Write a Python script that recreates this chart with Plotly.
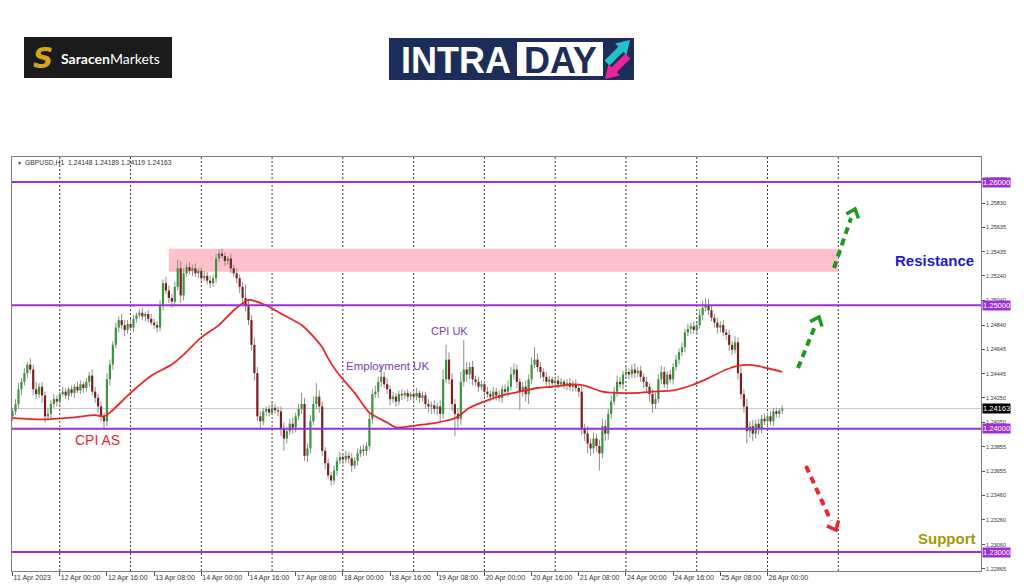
import math
import pandas as pd
import plotly.graph_objects as go

# ---------------- data ----------------
SYMBOL = "GBPUSD,H1"
START = "2023-04-11 08:00"          # first H1 bar
GRID_END = "2023-04-27 00:00"       # last daily separator drawn
PIP = 0.0001
FIRST_OPEN = 1.2410

CLOSE = [
    1.2414, 1.2420, 1.2432, 1.2438, 1.2445, 1.2452, 1.2448, 1.2432, 1.2428, 1.2434,
    1.2427, 1.2410, 1.2412, 1.2420, 1.2424, 1.2422, 1.2428, 1.2430, 1.2427, 1.2432,
    1.2429, 1.2434, 1.2431, 1.2436, 1.2433, 1.2438, 1.2443, 1.2430, 1.2425, 1.2418,
    1.2410, 1.2406, 1.2440, 1.2452, 1.2468, 1.2482, 1.2488, 1.2484, 1.2480, 1.2485,
    1.2482, 1.2489, 1.2492, 1.2494, 1.2491, 1.2493, 1.2489, 1.2486, 1.2484, 1.2482,
    1.2500, 1.2518, 1.2512, 1.2506, 1.2503, 1.2515, 1.2530, 1.2508, 1.2526, 1.2531,
    1.2528, 1.2530, 1.2526, 1.2528, 1.2522, 1.2524, 1.2520, 1.2518, 1.2522, 1.2538,
    1.2542, 1.2540, 1.2536, 1.2538, 1.2530, 1.2526, 1.2522, 1.2515, 1.2506, 1.2500,
    1.2488, 1.2468, 1.2445, 1.2410, 1.2406, 1.2414, 1.2416, 1.2413, 1.2417, 1.2415,
    1.2414, 1.2400, 1.2392, 1.2398, 1.2404, 1.2401, 1.2410, 1.2416, 1.2420, 1.2378,
    1.2384, 1.2406, 1.2420, 1.2426, 1.2418, 1.2382, 1.2372, 1.2362, 1.2358, 1.2366,
    1.2374, 1.2377, 1.2375, 1.2378, 1.2376, 1.2370, 1.2374, 1.2380, 1.2383, 1.2382,
    1.2386, 1.2408, 1.2428, 1.2430, 1.2438, 1.2442, 1.2436, 1.2432, 1.2424, 1.2426,
    1.2422, 1.2428, 1.2427, 1.2429, 1.2426, 1.2428, 1.2426, 1.2429, 1.2425, 1.2427,
    1.2420, 1.2418, 1.2419, 1.2416, 1.2418, 1.2412, 1.2440, 1.2456, 1.2440, 1.2420,
    1.2412, 1.2408, 1.2438, 1.2448, 1.2444, 1.2450, 1.2440, 1.2438, 1.2434, 1.2436,
    1.2430, 1.2428, 1.2426, 1.2430, 1.2427, 1.2425, 1.2432, 1.2430, 1.2434, 1.2444,
    1.2448, 1.2438, 1.2430, 1.2434, 1.2428, 1.2440, 1.2452, 1.2456, 1.2450, 1.2446,
    1.2442, 1.2438, 1.2440, 1.2437, 1.2439, 1.2436, 1.2438, 1.2435, 1.2437, 1.2434,
    1.2436, 1.2433, 1.2430, 1.2400, 1.2396, 1.2388, 1.2384, 1.2392, 1.2386, 1.2380,
    1.2402, 1.2396, 1.2412, 1.2422, 1.2430, 1.2438, 1.2436, 1.2444, 1.2446, 1.2444,
    1.2448, 1.2445, 1.2447, 1.2442, 1.2438, 1.2434, 1.2428, 1.2420, 1.2424, 1.2440,
    1.2446, 1.2436, 1.2444, 1.2440, 1.2450, 1.2456, 1.2462, 1.2466, 1.2478, 1.2481,
    1.2483, 1.2480, 1.2484, 1.2492, 1.2498, 1.2500, 1.2496, 1.2490, 1.2486, 1.2482,
    1.2484, 1.2478, 1.2476, 1.2468, 1.2464, 1.2470, 1.2445, 1.2428, 1.2418, 1.2398,
    1.2402, 1.2396, 1.2404, 1.2400, 1.2408, 1.2406, 1.2410, 1.2406, 1.2414, 1.2412,
    1.24148, 1.24163,
]

UPPER_WICK_PIPS = [
    3, 4, 5, 3, 4, 2, 5, 4, 6, 3,
    4, 3, 5, 3, 4, 3, 2, 4, 3, 2,
    3, 2, 4, 3, 2, 3, 3, 5, 4, 3,
    4, 3, 5, 4, 3, 4, 3, 5, 4, 3,
    4, 3, 2, 3, 4, 2, 3, 4, 3, 3,
    4, 3, 5, 4, 3, 4, 7, 6, 4, 3,
    4, 3, 4, 2, 3, 4, 3, 4, 3, 4,
    3, 4, 3, 2, 4, 3, 4, 3, 4, 11,
    5, 4, 6, 5, 4, 3, 2, 3, 4, 3,
    3, 4, 5, 3, 4, 5, 3, 4, 9, 5,
    4, 5, 6, 11, 5, 4, 3, 4, 3, 4,
    3, 4, 3, 4, 3, 4, 3, 4, 3, 4,
    3, 5, 4, 5, 4, 10, 4, 5, 3, 4,
    3, 3, 4, 2, 3, 2, 3, 4, 2, 3,
    3, 4, 3, 4, 3, 5, 8, 12, 6, 5,
    4, 5, 8, 24, 6, 4, 5, 3, 4, 3,
    3, 4, 3, 4, 3, 4, 3, 4, 5, 6,
    5, 4, 3, 4, 5, 4, 6, 10, 5, 4,
    3, 4, 3, 2, 3, 4, 3, 2, 3, 4,
    3, 4, 3, 5, 4, 6, 4, 5, 4, 5,
    6, 5, 4, 5, 4, 5, 4, 3, 4, 3,
    4, 5, 3, 4, 3, 4, 3, 4, 5, 4,
    5, 4, 3, 4, 3, 4, 3, 4, 3, 4,
    3, 4, 3, 5, 6, 6, 5, 4, 3, 4,
    3, 4, 3, 4, 3, 5, 4, 5, 4, 6,
    4, 5, 3, 4, 3, 4, 3, 4, 3, 3,
    2, 2.6,
]

LOWER_WICK_PIPS = [
    4, 3, 4, 5, 3, 4, 3, 5, 4, 3,
    6, 5, 3, 4, 3, 4, 3, 2, 3, 4,
    3, 4, 2, 3, 4, 3, 4, 3, 4, 5,
    4, 6, 4, 5, 4, 3, 4, 3, 5, 3,
    3, 4, 3, 2, 3, 4, 3, 2, 3, 4,
    3, 4, 3, 4, 5, 4, 3, 6, 4, 3,
    3, 4, 3, 4, 3, 2, 3, 4, 3, 4,
    3, 2, 4, 3, 4, 3, 4, 5, 4, 5,
    4, 5, 6, 4, 6, 3, 4, 3, 2, 3,
    4, 6, 10, 4, 3, 5, 4, 3, 4, 4,
    5, 4, 3, 4, 5, 4, 5, 3, 4, 3,
    4, 3, 4, 3, 4, 5, 3, 4, 3, 4,
    4, 3, 4, 3, 5, 4, 3, 4, 5, 3,
    4, 3, 4, 3, 4, 3, 4, 3, 4, 3,
    4, 5, 6, 4, 5, 6, 4, 3, 4, 6,
    18, 7, 5, 4, 6, 4, 5, 3, 4, 3,
    4, 3, 4, 3, 4, 3, 4, 3, 4, 3,
    4, 5, 15, 4, 6, 8, 4, 3, 4, 5,
    4, 3, 4, 3, 4, 3, 2, 3, 4, 3,
    4, 3, 4, 5, 6, 8, 6, 4, 5, 14,
    4, 6, 5, 4, 3, 4, 3, 4, 3, 4,
    3, 4, 3, 4, 5, 4, 6, 7, 4, 3,
    4, 3, 4, 3, 4, 3, 4, 3, 4, 3,
    4, 3, 4, 3, 4, 3, 4, 3, 4, 5,
    4, 3, 4, 5, 4, 3, 5, 4, 5, 10,
    5, 6, 4, 5, 4, 3, 4, 3, 4, 3,
    3, 2.9,
]

# moving average (red line), read at these bar numbers
MA_BAR = [0, 10, 20, 28, 31, 33, 40, 47, 54, 58, 64, 70, 75, 80, 86, 92, 98,
          103, 105, 107, 110, 116, 121, 127, 130, 138, 144, 150, 155, 161, 166,
          172, 178, 183, 190, 194, 200, 205, 212, 217, 224, 230, 236, 242, 246,
          251, 256, 261]
MA_VALUE = [1.24085, 1.24075, 1.24090, 1.24110, 1.24100, 1.24130, 1.24290,
            1.24430, 1.24520, 1.24600, 1.24740, 1.24840, 1.24960, 1.25045,
            1.25000, 1.24920, 1.24840, 1.24720, 1.24660, 1.24570, 1.24460,
            1.24290, 1.24130, 1.24050, 1.24010, 1.24030, 1.24050, 1.24085,
            1.24170, 1.24230, 1.24270, 1.24300, 1.24330, 1.24340, 1.24360,
            1.24350, 1.24300, 1.24290, 1.24290, 1.24300, 1.24310, 1.24350,
            1.24410, 1.24480, 1.24510, 1.24515, 1.24490, 1.24460]

X_TICK_LABELS = ["11 Apr 2023", "12 Apr 00:00", "12 Apr 16:00", "13 Apr 08:00",
                 "14 Apr 00:00", "14 Apr 16:00", "17 Apr 08:00", "18 Apr 00:00",
                 "18 Apr 16:00", "19 Apr 08:00", "20 Apr 00:00", "20 Apr 16:00",
                 "21 Apr 08:00", "24 Apr 00:00", "24 Apr 16:00", "25 Apr 08:00",
                 "26 Apr 00:00"]
X_TICK_STEP = 16  # one label every 16 bars

Y_TICKS = [1.26025, 1.25830, 1.25635, 1.25435, 1.25240, 1.25040, 1.24840,
           1.24645, 1.24445, 1.24250, 1.24050, 1.23855, 1.23655, 1.23460,
           1.23260, 1.23060, 1.22865]

LEVELS = [1.26000, 1.25000, 1.24000, 1.23000]
ZONE_LOW, ZONE_HIGH = 1.25272, 1.25459
ZONE_FROM_BAR, ZONE_TO_BAR = 53, 280

EVENTS = [("CPI AS", "#e5282b"), ("Employment UK", "#7a3cae"), ("CPI UK", "#7a3cae")]

# ---------------- derived ----------------
n = len(CLOSE)
bars = list(range(n))
OPEN = [FIRST_OPEN] + CLOSE[:-1]
HIGH = [max(o, c) + u * PIP for o, c, u in zip(OPEN, CLOSE, UPPER_WICK_PIPS)]
LOW = [min(o, c) - d * PIP for o, c, d in zip(OPEN, CLOSE, LOWER_WICK_PIPS)]

times = pd.date_range(START, periods=24 * 30, freq="h")
times = times[times.dayofweek < 5]
grid_bars = [i for i, t in enumerate(times) if t.hour == 0 and t <= pd.Timestamp(GRID_END)]

# ---------------- page geometry ----------------
W, H = 1024, 587
L, R, T, B = 12, 981, 157, 571


def PX(x):
    return (x - L) / (R - L)


def PY(y):
    return (B - y) / (B - T)


GREEN = "#3a963a"
RED = "#7e1f1f"
WICK = "#8e8e8e"
PURPLE = "#9b30d9"

fig = go.Figure()

# wicks
wx, wy = [], []
for i in bars:
    wx += [i, i, None]
    wy += [LOW[i], HIGH[i], None]
fig.add_trace(go.Scatter(x=wx, y=wy, mode="lines", line=dict(color=WICK, width=1),
                         hoverinfo="skip"))

# bodies
MIN_BODY = 0.5 * PIP
for up, col in ((True, GREEN), (False, RED)):
    bx, by = [], []
    for i in bars:
        o, c = OPEN[i], CLOSE[i]
        if (c >= o) != up:
            continue
        lo, hi = min(o, c), max(o, c)
        if hi - lo < 2 * MIN_BODY:
            mid = (hi + lo) / 2
            lo, hi = mid - MIN_BODY, mid + MIN_BODY
        bx += [i, i, None]
        by += [lo, hi, None]
    fig.add_trace(go.Scatter(x=bx, y=by, mode="lines", line=dict(color=col, width=2.2),
                             hoverinfo="skip"))

# moving average
fig.add_trace(go.Scatter(x=MA_BAR, y=MA_VALUE, mode="lines",
                         line=dict(color="#e5282b", width=1.8, shape="spline", smoothing=0.6),
                         hoverinfo="skip"))

shapes = []
# resistance zone
shapes.append(dict(type="rect", xref="x", yref="y", x0=ZONE_FROM_BAR, x1=ZONE_TO_BAR,
                   y0=ZONE_LOW, y1=ZONE_HIGH, fillcolor="#ffc1cc", line=dict(width=0),
                   layer="below"))
# daily separators
for g in grid_bars:
    shapes.append(dict(type="line", xref="x", yref="paper", x0=g, x1=g, y0=0, y1=1,
                       line=dict(color="#3c3c3c", width=1, dash="2px,2px"), layer="below"))
# current price line
shapes.append(dict(type="line", xref="paper", yref="y", x0=0, x1=1, y0=CLOSE[-1], y1=CLOSE[-1],
                   line=dict(color="#c8c8c8", width=1), layer="below"))
# horizontal levels
for lv in LEVELS:
    shapes.append(dict(type="line", xref="paper", yref="y", x0=0, x1=1, y0=lv, y1=lv,
                       line=dict(color=PURPLE, width=2), layer="above"))


# dashed arrows (decoration, in page pixels)
def dashed_arrow(x0, y0, x1, y1, tx, ty, color):
    shapes.append(dict(type="line", xref="paper", yref="paper", x0=PX(x0), y0=PY(y0),
                       x1=PX(x1), y1=PY(y1), line=dict(color=color, width=4, dash="7px,5px")))
    dx, dy = tx - x0, ty - y0
    d = math.hypot(dx, dy)
    bx_, by_ = -dx / d, -dy / d
    pts = []
    for a in (math.radians(40), math.radians(-40)):
        rx = bx_ * math.cos(a) - by_ * math.sin(a)
        ry = bx_ * math.sin(a) + by_ * math.cos(a)
        pts.append((tx + 10 * rx, ty + 10 * ry))
    path = (f"M {PX(pts[0][0])},{PY(pts[0][1])} L {PX(tx)},{PY(ty)} "
            f"L {PX(pts[1][0])},{PY(pts[1][1])}")
    shapes.append(dict(type="path", xref="paper", yref="paper", path=path,
                       line=dict(color=color, width=3.5)))


dashed_arrow(834, 268, 851, 218, 855, 209, "#1f9a1f")
dashed_arrow(798, 368, 815, 326, 819, 317, "#1f9a1f")
dashed_arrow(806, 466, 831, 521, 836, 530, "#e5282b")


# logos
def prect(x0, y0, x1, y1, fill):
    shapes.append(dict(type="rect", xref="paper", yref="paper", x0=PX(x0), x1=PX(x1),
                       y0=PY(y1), y1=PY(y0), fillcolor=fill, line=dict(width=0)))


def ppoly(pts, fill):
    path = "M " + " L ".join(f"{PX(x)},{PY(y)}" for x, y in pts) + " Z"
    shapes.append(dict(type="path", xref="paper", yref="paper", path=path,
                       fillcolor=fill, line=dict(width=0)))


prect(24, 37, 172, 78, "#1b1b1b")
prect(389, 38, 634, 80, "#1c2d5a")
prect(517, 42, 603, 76, "#ffffff")
ppoly([(630, 40), (626.5, 54.9), (623.3, 51.7), (609.5, 65.5), (604.5, 60.5),
       (618.3, 46.7), (615.1, 43.5)], "#22c3cc")
ppoly([(605, 79), (619.9, 75.5), (616.7, 72.3), (630.5, 58.5), (625.5, 53.5),
       (611.7, 67.3), (608.5, 64.1)], "#e8259c")

ann = []


def ptext(x, y, text, size, color, family="Liberation Sans", xanchor="center", **kw):
    ann.append(dict(xref="paper", yref="paper", x=PX(x), y=PY(y), text=text, showarrow=False,
                    xanchor=xanchor, yanchor="middle", font=dict(size=size, color=color,
                                                                 family=family), **kw))


ptext(43, 58, "<b><i>S</i></b>", 28, "#d8a21e", family="DejaVu Sans")
ptext(59, 58, "<b>Saracen</b>Markets", 14, "#ffffff", family="Lato", xanchor="left")
ptext(456, 60, "<b>INTRA</b>", 36, "#ffffff", family="Liberation Sans")
ptext(560, 60, "<b>DAY</b>", 36, "#1c2d5a", family="Liberation Sans")

# header line
ptext(15, 163, "▼", 5, "#333333", xanchor="left")
hdr = f"{SYMBOL}  {OPEN[-1]:.5f} {HIGH[-1]:.5f} {LOW[-1]:.5f} {CLOSE[-1]:.5f}"
ptext(23, 163, hdr, 6.8, "#333333", xanchor="left")

# event labels
ptext(97, 440, EVENTS[0][0], 14, EVENTS[0][1])
ptext(387, 366, EVENTS[1][0], 11.5, EVENTS[1][1])
ptext(449, 331, EVENTS[2][0], 11, EVENTS[2][1])
ptext(934, 260, "<b>Resistance</b>", 15, "#1c1cc8")
ptext(947, 538, "<b>Support</b>", 15, "#a09a00")

# price boxes on the right axis
for lv in LEVELS:
    ann.append(dict(xref="paper", yref="y", x=1, y=lv, xanchor="left", yanchor="middle",
                    xshift=1, text=f"{lv:.5f}", showarrow=False, bgcolor=PURPLE,
                    borderpad=0, font=dict(size=7.5, color="white", family="Liberation Sans")))
ann.append(dict(xref="paper", yref="y", x=1, y=CLOSE[-1], xanchor="left", yanchor="middle",
                xshift=1, text=f"{CLOSE[-1]:.5f}", showarrow=False, bgcolor="#000000",
                borderpad=0, font=dict(size=7.5, color="white", family="Liberation Sans")))

fig.update_layout(
    width=W, height=H,
    margin=dict(l=L, r=W - R, t=T, b=H - B, pad=0, autoexpand=False),
    paper_bgcolor="white", plot_bgcolor="white",
    showlegend=False,
    shapes=shapes, annotations=ann,
    xaxis=dict(range=[-0.2, 328.4], showgrid=False, zeroline=False, automargin=False,
               tickmode="array",
               tickvals=[k * X_TICK_STEP for k in range(len(X_TICK_LABELS))],
               ticktext=X_TICK_LABELS, ticks="outside", ticklen=4, tickcolor="#555555",
               ticklabelposition="outside right", tickangle=0,
               tickfont=dict(size=7, color="#333333", family="Liberation Sans"),
               showline=True, linecolor="#808080", linewidth=1, mirror=True),
    yaxis=dict(range=[1.22846, 1.26203], side="right", showgrid=False, zeroline=False,
               automargin=False,
               tickmode="array", tickvals=Y_TICKS, ticktext=[f"{v:.5f}" for v in Y_TICKS],
               ticks="outside", ticklen=3, tickcolor="#555555",
               tickfont=dict(size=5.5, color="#333333", family="Liberation Sans"),
               showline=True, linecolor="#808080", linewidth=1, mirror=True),
)

fig.write_html("out.html", config={"displayModeBar": False},
               post_script="document.body.style.margin='0';")
